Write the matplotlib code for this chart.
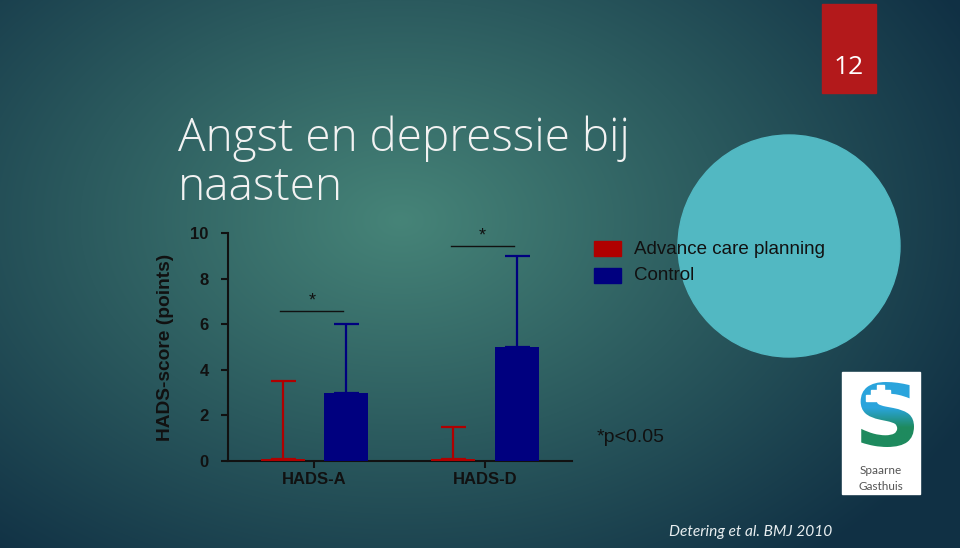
import numpy as np
import matplotlib.pyplot as plt
from matplotlib.patches import Rectangle, Circle, PathPatch
from matplotlib.textpath import TextPath
from matplotlib.font_manager import FontProperties
from matplotlib.path import Path

# data
groups = ["HADS-A", "HADS-D"]
acp_mean = [0.08, 0.08]
acp_top = [3.5, 1.5]
ctrl_mean = [3.0, 5.0]
ctrl_top = [6.0, 9.0]
sig_y = [6.6, 9.45]
yticks = [0, 2, 4, 6, 8, 10]

W, H = 960, 548
fig = plt.figure(figsize=(W / 100, H / 100), dpi=100)

# slide background (pixel coordinates)
bg = fig.add_axes([0, 0, 1, 1])
bg.set_xlim(0, W)
bg.set_ylim(H, 0)
bg.axis("off")
yy, xx = np.mgrid[0:H, 0:W]
d = np.sqrt(((xx - 400) / 640.0) ** 2 + ((yy - 220) / 440.0) ** 2)
d = np.clip(d, 0, 1)
c0 = np.array([70, 132, 120]) / 255
c1 = np.array([16, 48, 68]) / 255
img = c0[None, None, :] * (1 - d[..., None]) + c1[None, None, :] * d[..., None]
bg.imshow(img, extent=[0, W, H, 0], aspect="auto", zorder=0)

bg.add_patch(Circle((789, 246), 111, color="#52b8c2", zorder=1))
bg.add_patch(Rectangle((822, 4), 54, 89, color="#b3191b", zorder=1))
bg.text(849, 68, "12", color="white", fontsize=19, ha="center", va="center",
        family="Open Sans", zorder=2)

# logo
bg.add_patch(Rectangle((842, 372), 78, 122, color="white", zorder=1))
tp = TextPath((0, 0), "S", size=100, prop=FontProperties(family="DejaVu Sans", weight="bold"))
v = tp.vertices
x0, x1, y0, y1 = v[:, 0].min(), v[:, 0].max(), v[:, 1].min(), v[:, 1].max()
nv = np.column_stack([854 + (v[:, 0] - x0) / (x1 - x0) * 60,
                      447 - (v[:, 1] - y0) / (y1 - y0) * 65])
spatch = PathPatch(Path(nv, tp.codes), facecolor="none", edgecolor="none", zorder=2)
bg.add_patch(spatch)
t = np.linspace(0, 1, 64)[:, None]
t = np.clip((t - 0.4) / 0.3, 0, 1)
cb, cg = np.array([42, 164, 220]) / 255, np.array([30, 138, 94]) / 255
grad = (cb[None, :] * (1 - t) + cg[None, :] * t)[:, None, :].repeat(4, axis=1)
gi = bg.imshow(grad, extent=[854, 914, 447, 382], aspect="auto", zorder=2)
gi.set_clip_path(spatch)
for (rx0, rx1, ry0, ry1) in [(877, 884, 385, 400), (871, 890, 390, 400), (866, 895, 395, 401)]:
    bg.add_patch(Rectangle((rx0, ry0), rx1 - rx0, ry1 - ry0, color="white", zorder=3))
bg.text(881, 470, "Spaarne", color="#555555", fontsize=8.5, ha="center", va="center",
        family="Lato", zorder=2)
bg.text(881, 486, "Gasthuis", color="#555555", fontsize=8.5, ha="center", va="center",
        family="Lato", zorder=2)

bg.text(178, 151, "Angst en depressie bij", color="#f2f2f2", fontsize=33,
        family="Open Sans", fontweight="light", ha="left", va="baseline", zorder=2)
bg.text(178, 200, "naasten", color="#f2f2f2", fontsize=33,
        family="Open Sans", fontweight="light", ha="left", va="baseline", zorder=2)

bg.text(832, 532, "Detering et al. BMJ 2010", color="#e8eef0", fontsize=11.2,
        style="italic", family="Lato", ha="right", va="center", zorder=2)

# chart
ax = fig.add_axes([228 / W, 87 / H, 344 / W, 228 / H])
ax.patch.set_alpha(0)
x = np.arange(len(groups))
off, bw = 0.187, 0.258
ax.bar(x - off, acp_mean, bw, color="#b00000", zorder=3)
ax.bar(x + off, ctrl_mean, bw, color="#00007f", zorder=3)
acp_err = [a - m for a, m in zip(acp_top, acp_mean)]
ctrl_err = [a - m for a, m in zip(ctrl_top, ctrl_mean)]
ax.errorbar(x - off, acp_mean, yerr=[[0, 0], acp_err], fmt="none", ecolor="#b00000",
            elinewidth=1.6, capsize=9, capthick=1.6, zorder=4)
ax.errorbar(x + off, ctrl_mean, yerr=[[0, 0], ctrl_err], fmt="none", ecolor="#00007f",
            elinewidth=1.6, capsize=9, capthick=1.6, zorder=4)
for i, sy in enumerate(sig_y):
    ax.plot([i - 0.2, i + 0.17], [sy, sy], color="#111111", lw=1, clip_on=False)
    ax.text(i - 0.015, sy + 0.05, "*", ha="center", va="bottom", fontsize=13,
            color="#111111", family="Liberation Sans")

ax.set_xlim(-0.507, 1.51)
ax.set_ylim(0, 10)
ax.set_yticks(yticks)
ax.set_xticks(x)
ax.set_xticklabels(groups)
for s in ["top", "right"]:
    ax.spines[s].set_visible(False)
for s in ["left", "bottom"]:
    ax.spines[s].set_linewidth(1.5)
    ax.spines[s].set_color("#111111")
ax.tick_params(length=5, width=1.5, color="#111111", labelcolor="#111111",
               labelsize=12)
for lab in ax.get_xticklabels() + ax.get_yticklabels():
    lab.set_fontweight("bold")
    lab.set_family("Liberation Sans")
ax.tick_params(axis="y", pad=9)
ax.tick_params(axis="x", pad=3)
ax.set_ylabel("HADS-score (points)", fontsize=13.8, fontweight="bold",
              family="Liberation Sans", color="#111111", labelpad=12)

# legend
bg.add_patch(Rectangle((594, 241), 27, 15, color="#b00000", zorder=3))
bg.add_patch(Rectangle((594, 268), 27, 15, color="#00007f", zorder=3))
bg.text(634, 249, "Advance care planning", fontsize=13.5, color="#111111",
        family="Liberation Sans", va="center", zorder=3)
bg.text(634, 276, "Control", fontsize=13.5, color="#111111",
        family="Liberation Sans", va="center", zorder=3)
bg.text(597, 437, "*p<0.05", fontsize=14, color="#111111",
        family="Liberation Sans", va="center", zorder=3)

fig.savefig("out.png", dpi=100)
